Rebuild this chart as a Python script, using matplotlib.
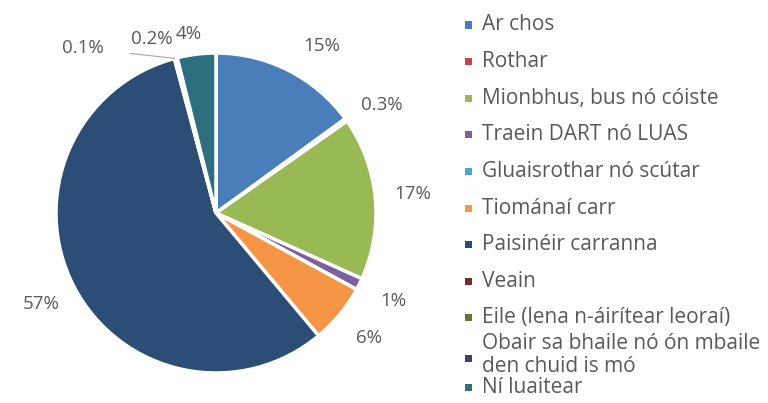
import numpy as np
import matplotlib.pyplot as plt
from matplotlib.patches import Rectangle

############################################################################## Data

categories = ['Ar chos', 'Rothar', 'Mionbhus, bus nó cóiste', 'Traein DART nó LUAS',
              'Gluaisrothar nó scútar', 'Tiománaí carr', 'Paisinéir carranna', 'Veain',
              'Eile (lena n-áirítear leoraí)', 'Obair sa bhaile nó ón mbaile\nden chuid is mó',
              'Ní luaitear']
shares = [15.0, 0.3, 16.5, 1.2, 0.0, 6.0, 57.0, 0.1, 0.2, 0.0, 3.9]
pct_labels = ['15%', '0.3%', '17%', '1%', '', '6%', '57%', '0.1%', '0.2%', '', '4%']
colors = ['#4A7EBB', '#BE4B48', '#98B954', '#7D60A0', '#46AAC5', '#F69545',
          '#2C4D75', '#772C2A', '#5F7530', '#4D3B62', '#2E6F7F']

############################################################################## Plot

plt.rcParams['font.family'] = ['Open Sans', 'DejaVu Sans']
txt_color = '#595959'

W, H = 768, 403
fig = plt.figure(figsize=(W / 100, H / 100), dpi=100)
cx, cy, R, half = 216, 213, 166, 200
ax = fig.add_axes([(cx - half) / W, (H - cy - half) / H, 2 * half / W, 2 * half / H])
ax.set_xlim(-half / R, half / R)
ax.set_ylim(-half / R, half / R)
ax.axis('off')

wedges, _ = ax.pie(shares, colors=colors, startangle=90, counterclock=False,
                   radius=1.0, wedgeprops=dict(edgecolor='white', linewidth=2.5))

# percentage labels around the pie (Excel "best fit" nudges a few of them)
fs = 13.5
nudge = {'15%': -5.5, '0.3%': -2.5}
for w, lab in zip(wedges, pct_labels):
    if not lab:
        continue
    mid_deg = (w.theta1 + w.theta2) / 2
    mid = np.deg2rad(mid_deg + nudge.get(lab, 0))
    x, y = 1.235 * np.cos(mid), 1.235 * np.sin(mid)
    if lab == '0.1%':
        edge = np.deg2rad(mid_deg)
        ax.annotate(lab, xy=(np.cos(edge), np.sin(edge)), xytext=(-0.83, 1.03),
                    ha='center', va='center', fontsize=fs, color=txt_color,
                    arrowprops=dict(arrowstyle='-', color='#A6A6A6', lw=0.8,
                                    shrinkA=17, shrinkB=0))
        continue
    if lab == '0.2%':
        x, y = -0.40, 1.09
    if lab == '4%':
        x, y = -0.17, 1.12
    ax.text(x, y, lab, ha='center', va='center', fontsize=fs, color=txt_color)

# legend (Excel squeezes the last rows, so rows are laid out by hand)
row_gaps = [0] + [36.6] * 8 + [37, 33]
marker_dy = [0] * 9 + [4, 0]
y = 25
for cat, col, gap, mdy in zip(categories, colors, row_gaps, marker_dy):
    y += gap
    sq = 7
    fig.add_artist(Rectangle(((468 - sq / 2) / W, 1 - (y + mdy + sq / 2) / H), sq / W, sq / H,
                             transform=fig.transFigure, facecolor=col, edgecolor='none'))
    fig.text(482 / W, 1 - y / H, cat, ha='left', va='center', fontsize=15,
             color=txt_color, linespacing=1.15)

plt.savefig('out.png', dpi=100)
